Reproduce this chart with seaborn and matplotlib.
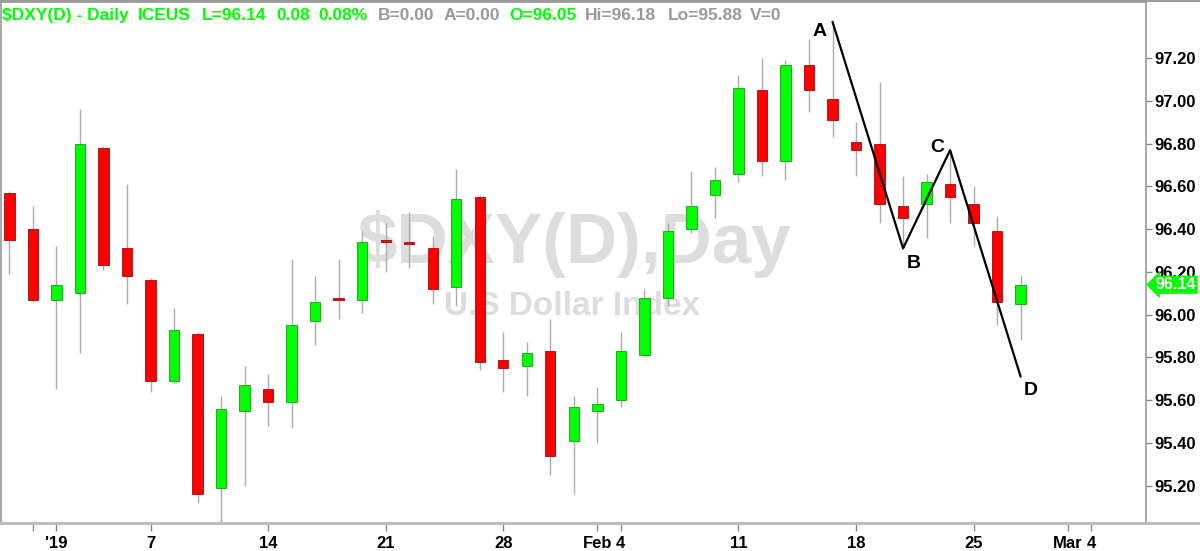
import matplotlib
matplotlib.use("Agg")
import matplotlib.pyplot as plt
import matplotlib.transforms as mtransforms
from matplotlib.lines import Line2D
from matplotlib import font_manager
import seaborn as sns
import pandas as pd
import numpy as np

# daily OHLC, Dec 28 2018 .. Feb 27 2019 (one slot per weekday)
opens = [96.57, 96.40, 96.07, 96.10, 96.78, 96.31, 96.16, 95.69, 95.91, 95.19,
         95.55, 95.65, 95.59, 95.97, 96.08, 96.07, 96.35, 96.34, 96.31, 96.13,
         96.55, 95.79, 95.76, 95.83, 95.41, 95.55, 95.60, 95.81, 96.08, 96.40,
         96.56, 96.66, 97.05, 96.72, 97.17, 97.01, 96.81, 96.80, 96.51, 96.52,
         96.61, 96.52, 96.39, 96.05]
highs = [96.58, 96.51, 96.32, 96.96, 96.79, 96.61, 96.17, 96.03, 95.92, 95.62,
         95.76, 95.72, 96.26, 96.18, 96.26, 96.39, 96.43, 96.48, 96.37, 96.68,
         96.56, 95.92, 95.87, 95.98, 95.62, 95.66, 95.92, 96.12, 96.43, 96.67,
         96.69, 97.12, 97.20, 97.19, 97.29, 97.37, 96.90, 97.09, 96.65, 96.66,
         96.77, 96.60, 96.46, 96.18]
lows = [96.19, 96.06, 95.65, 95.82, 96.21, 96.05, 95.64, 95.68, 95.12, 95.03,
        95.20, 95.48, 95.47, 95.86, 95.98, 96.01, 96.20, 96.22, 96.05, 96.04,
        95.74, 95.64, 95.62, 95.25, 95.16, 95.40, 95.57, 95.80, 96.04, 96.38,
        96.45, 96.62, 96.65, 96.63, 96.95, 96.83, 96.65, 96.43, 96.31, 96.36,
        96.43, 96.32, 95.95, 95.88]
closes = [96.35, 96.07, 96.14, 96.80, 96.23, 96.18, 95.69, 95.93, 95.16, 95.56,
          95.67, 95.59, 95.95, 96.06, 96.07, 96.34, 96.34, 96.33, 96.12, 96.54,
          95.78, 95.75, 95.82, 95.34, 95.57, 95.58, 95.83, 96.08, 96.39, 96.51,
          96.63, 97.06, 96.72, 97.17, 97.05, 96.91, 96.77, 96.52, 96.45, 96.62,
          96.55, 96.43, 96.06, 96.14]

# ABCD swing points
abcd_labels = ["A", "B", "C", "D"]
abcd_dates = ["2019-02-15", "2019-02-20", "2019-02-22", "2019-02-27"]
abcd_prices = [97.37, 96.31, 96.77, 95.71]

tick_dates = ["2018-12-31", "2019-01-01", "2019-01-07", "2019-01-14", "2019-01-21",
              "2019-01-28", "2019-02-01", "2019-02-04", "2019-02-11", "2019-02-18",
              "2019-02-25", "2019-03-01", "2019-03-04"]
tick_labels = ["", "'19", "7", "14", "21", "28", "Feb", "4", "11", "18", "25", "Mar", "4"]
y_ticks = [95.20, 95.40, 95.60, 95.80, 96.00, 96.20, 96.40, 96.60, 96.80, 97.00, 97.20]

calendar = pd.bdate_range("2018-12-28", "2019-03-08")
slot = {d: i for i, d in enumerate(calendar)}
df = pd.DataFrame({"open": opens, "high": highs, "low": lows, "close": closes},
                  index=calendar[:len(opens)])
df["x"] = [slot[d] for d in df.index]
df["up"] = df["close"] >= df["open"]

sns.set_theme(style="white")
names = {f.name for f in font_manager.fontManager.ttflist}
narrow = "Liberation Sans Narrow" if "Liberation Sans Narrow" in names else "Liberation Sans"
plt.rcParams["font.family"] = ["Liberation Sans", "DejaVu Sans"]

fig = plt.figure(figsize=(12, 5.51), dpi=100)
ax = fig.add_axes([0.001, 0.0508, 0.954, 0.9456])

GREEN, RED = "#00ff00", "#ff0000"
ax.vlines(df["x"], df["low"], df["high"], color="#ababab", lw=1.0, zorder=2)
body = (df["close"] - df["open"]).abs().clip(lower=0.008)
ax.bar(df["x"], body, bottom=df[["open", "close"]].min(axis=1), width=0.44,
       color=np.where(df["up"], GREEN, RED),
       edgecolor=np.where(df["up"], "#18b018", "#b01818"), linewidth=0.7, zorder=3)

# ABCD zig-zag
zz = pd.DataFrame({"x": [slot[pd.Timestamp(d)] for d in abcd_dates], "y": abcd_prices})
sns.lineplot(data=zz, x="x", y="y", sort=False, color="black", lw=1.6, ax=ax, zorder=4)
offs = [(-0.55, -0.045), (0.45, -0.07), (-0.55, 0.01), (0.45, -0.065)]
for lab, (x, y), (dx, dy) in zip(abcd_labels, zz.values, offs):
    ax.text(x + dx, y + dy, lab, ha="center", va="center", fontsize=14,
            weight="bold", color="black", zorder=5)

ax.set_xlim(-0.35, 48.33)
ax.set_ylim(95.025, 97.463)
ax.set_xlabel("")
ax.set_ylabel("")

# watermark
ax.text(574 / 1200, 1 - 263 / 551, "$DXY(D),Day", transform=fig.transFigure,
        ha="center", va="baseline", fontsize=51, weight="bold", color="#dddddd", zorder=0)
ax.text(572 / 1200, 1 - 315 / 551, "U.S Dollar Index", transform=fig.transFigure,
        ha="center", va="baseline", fontsize=24, weight="bold", color="#dddddd", zorder=0)

# axes
ax.yaxis.tick_right()
ax.set_yticks(y_ticks)
ax.set_yticklabels([f"{v:.2f}" for v in y_ticks], fontsize=12, weight="bold")
ax.set_xticks([slot[pd.Timestamp(d)] for d in tick_dates])
ax.set_xticklabels(tick_labels, fontsize=12, weight="bold", family=narrow)
ax.tick_params(axis="y", right=True, left=False, direction="out", length=4,
               width=1, color="#888888", pad=2, labelcolor="black")
ax.tick_params(axis="x", bottom=True, direction="out", length=6, width=1,
               color="#888888", pad=3, labelcolor="black")
for side in ["left", "top", "right"]:
    ax.spines[side].set_color("#9a9a9a")
    ax.spines[side].set_linewidth(1.2)
ax.spines["bottom"].set_color("#bdbdbd")
ax.spines["bottom"].set_linewidth(2.2)

fig.add_artist(Line2D([0, 1], [0.998, 0.998], color="#9a9a9a", lw=1.5))
fig.add_artist(Line2D([0, 1], [0.0508, 0.0508], color="#bdbdbd", lw=2.2))

# last price tag
trans = mtransforms.blended_transform_factory(ax.transAxes, ax.transData)
ax.text(1.0085, closes[-1], f"{closes[-1]:.2f}", transform=trans, ha="left", va="center",
        fontsize=11.5, weight="bold", color="white", zorder=6, clip_on=False,
        bbox=dict(boxstyle="larrow,pad=0.1", fc=GREEN, ec="none"))

# header line
header = [(2, "$DXY(D) - Daily", GREEN), (138, "ICEUS", GREEN), (202, "L=96.14", GREEN),
          (276, "0.08", GREEN), (318, "0.08%", GREEN), (378, "B=0.00", "#999999"),
          (444, "A=0.00", "#999999"), (509, "O=96.05", GREEN), (585, "Hi=96.18", "#999999"),
          (668, "Lo=95.88", "#999999"), (750, "V=0", "#999999")]
for px, txt, col in header:
    fig.text(px / 1200, 1 - 20 / 551, txt, ha="left", va="baseline", fontsize=12.5,
             weight="bold", color=col)

fig.savefig("out.png", dpi=100, facecolor="white")
